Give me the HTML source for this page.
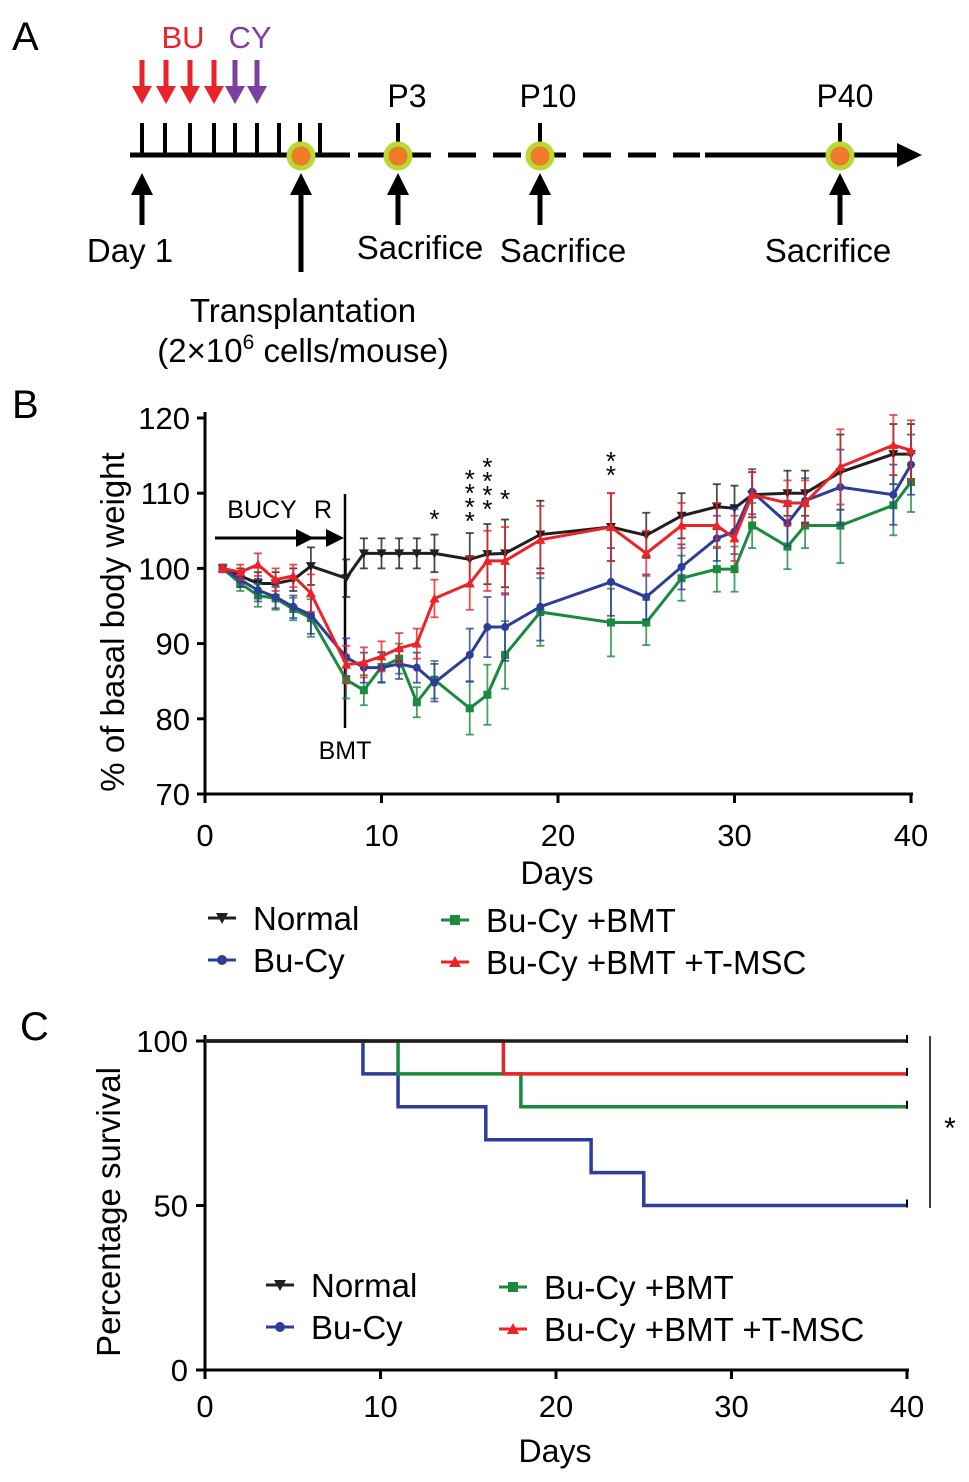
<!DOCTYPE html>
<html><head><meta charset="utf-8"><style>
html,body{margin:0;padding:0;background:#fff;}
svg{display:block;font-family:"Liberation Sans",Arial,sans-serif;}
</style></head><body>
<svg id="fig" width="969" height="1482" viewBox="0 0 969 1482" xmlns="http://www.w3.org/2000/svg">
<!-- Panel A -->
<g>
<text x="12" y="50" font-size="40">A</text>
<text x="183" y="48" font-size="31" fill="#e8232a" text-anchor="middle">BU</text>
<text x="250" y="48" font-size="31" fill="#7b3fa0" text-anchor="middle">CY</text>
<g id="drugArrows"></g>
<line x1="130" y1="155" x2="350" y2="155" stroke="#000" stroke-width="5"/>
<line x1="358" y1="155" x2="700" y2="155" stroke="#000" stroke-width="5" stroke-dasharray="28,17"/>
<line x1="705" y1="155" x2="900" y2="155" stroke="#000" stroke-width="5"/>
<polygon points="897,143 922,155 897,167" fill="#000"/>
<g id="dayTicks"></g>
<g id="sacCircles"></g>
<text x="407" y="107" font-size="32" text-anchor="middle">P3</text>
<text x="548" y="107" font-size="32" text-anchor="middle">P10</text>
<text x="845" y="107" font-size="32" text-anchor="middle">P40</text>
<g id="upArrows"></g>
<text x="130" y="262" font-size="33" text-anchor="middle">Day 1</text>
<text x="420" y="259" font-size="33" text-anchor="middle">Sacrifice</text>
<text x="563" y="262" font-size="33" text-anchor="middle">Sacrifice</text>
<text x="828" y="262" font-size="33" text-anchor="middle">Sacrifice</text>
<text x="303" y="322" font-size="33" text-anchor="middle">Transplantation</text>
<text x="303" y="362" font-size="33" text-anchor="middle">(2×10<tspan dy="-13" font-size="21">6</tspan><tspan dy="13"> cells/mouse)</tspan></text>
</g>
<!-- Panel B -->
<g id="panelB">
<text x="12" y="418" font-size="40">B</text>
</g>
<!-- Panel C -->
<g id="panelC">
<text x="20" y="1040" font-size="40">C</text>
</g>
</svg>
<script>
// ---------- Panel B data ----------
const daysB = [1,2,3,4,5,6,8,9,10,11,12,13,15,16,17,19,23,25,27,29,30,31,33,34,36,39,40];
const normalW = [100,99,98,98,98.5,100.3,98.7,102,102,102,102,102,101.2,101.9,102,104.5,105.5,104.4,107,108.2,108,109.8,110,110,112.8,115.2,115.2];
const bucyW   = [100,98.5,97.1,96.2,94.9,93.8,88.2,86.8,86.8,87.3,86.8,84.8,88.5,92.2,92.2,94.9,98.2,96.2,100.2,104,104.9,110.2,106,109,110.8,109.8,113.8];
const bmtW    = [100,98,96.4,96,94.6,93.4,85.2,83.8,86.9,88,82.2,85.2,81.4,83.2,88.5,94.2,92.8,92.8,98.7,99.9,99.9,105.7,102.9,105.7,105.7,108.4,111.5];
const msctW   = [100,99.5,100.5,98.5,99,96.7,87.2,87.5,88.3,89.4,90,96,98,101,101,103.8,105.5,102,105.7,105.7,104,109.8,108.7,108.7,113.5,116.4,115.7];
const errB    = [0.5,1,1.5,1.5,1.5,2.5,2.5,2,2,2,2,2.5,3.5,4,4.5,4.5,4.5,3,3,3,3,3,3,3,5,4,4];
const yTicksB = [70,80,90,100,110,120];
const xTicksB = [0,10,20,30,40];
// ---------- Panel C data ----------
const survNormal = [[0,100],[40,100]];
const survMsc    = [[0,100],[17,90],[40,90]];
const survBmt    = [[0,100],[11,90],[18,80],[40,80]];
const survBucy   = [[0,100],[9,90],[11,80],[16,70],[22,60],[25,50],[40,50]];
const yTicksC = [0,50,100];
const xTicksC = [0,10,20,30,40];

const NS="http://www.w3.org/2000/svg";
function mk(parent,tag,attrs,text){const e=document.createElementNS(NS,tag);for(const k in attrs)e.setAttribute(k,attrs[k]);if(text!==undefined)e.textContent=text;parent.appendChild(e);return e;}

// Panel A drawing
const arrG=document.getElementById('drugArrows');
[142,166,190,214,235,257].forEach((x,i)=>{
  const c=i<4?'#e8232a':'#7b3fa0';
  const g=mk(arrG,'g',{});
  
  
  mk(g,'line',{x1:x,y1:60,x2:x,y2:88,stroke:c,'stroke-width':5});
  mk(g,'polygon',{points:`${x-10},86 ${x+10},86 ${x},104`,fill:c});
});
const tG=document.getElementById('dayTicks');
[142,165,190,214,235,257,279,300,320].forEach(x=>{
  const l=mk(tG,'line',{x1:x,y1:123,x2:x,y2:155,stroke:'#000','stroke-width':4});
  
  
});
[398,540,840].forEach(x=>mk(tG,'line',{x1:x,y1:123,x2:x,y2:155,stroke:'#000','stroke-width':4}));
const cG=document.getElementById('sacCircles');
[301,398,540,840].forEach(x=>{
  const c=mk(cG,'circle',{cx:x,cy:156,r:12,fill:'#ee7a2a',stroke:'#b8d832','stroke-width':5});
  
  
});
const uG=document.getElementById('upArrows');
[[142,225],[301,272],[398,225],[540,225],[840,225]].forEach(([x,y2])=>{
  const g=mk(uG,'g',{});
  
  
  mk(g,'line',{x1:x,y1:190,x2:x,y2:y2,stroke:'#000','stroke-width':5});
  mk(g,'polygon',{points:`${x-11},195 ${x+11},195 ${x},173`,fill:'#000'});
});

// Panel B
const B=document.getElementById('panelB');
const bx=d=>205+d*(911-205)/40, by=v=>794-(v-70)*(794-418)/50;
mk(B,'line',{x1:205,y1:412,x2:205,y2:796,stroke:'#000','stroke-width':3});
mk(B,'line',{x1:203,y1:794,x2:913,y2:794,stroke:'#000','stroke-width':3});
yTicksB.forEach(v=>{
  mk(B,'line',{x1:197,y1:by(v),x2:205,y2:by(v),stroke:'#000','stroke-width':3});
  const t=mk(B,'text',{x:190,y:by(v)+11,'font-size':31,'text-anchor':'end'},v);
  
  
});
xTicksB.forEach(v=>{
  mk(B,'line',{x1:bx(v),y1:794,x2:bx(v),y2:803,stroke:'#000','stroke-width':3});
  const t=mk(B,'text',{x:bx(v),y:846,'font-size':31,'text-anchor':'middle'},v);
  
  
});
let t=mk(B,'text',{x:557,y:884,'font-size':32,'text-anchor':'middle'},'Days');


t=mk(B,'text',{x:0,y:0,'font-size':33,'text-anchor':'middle',transform:'translate(124,622) rotate(-90)'},'% of basal body weight');


// annotations
mk(B,'line',{x1:215,y1:538,x2:335,y2:538,stroke:'#000','stroke-width':3});
mk(B,'polygon',{points:'296,529 314,538 296,547',fill:'#000'});
mk(B,'polygon',{points:'326,529 344,538 326,547',fill:'#000'});
mk(B,'text',{x:262,y:518,'font-size':25,'text-anchor':'middle'},'BUCY');
mk(B,'text',{x:323,y:518,'font-size':25,'text-anchor':'middle'},'R');
mk(B,'line',{x1:345,y1:494,x2:345,y2:728,stroke:'#000','stroke-width':2.5});
mk(B,'text',{x:345,y:759,'font-size':25,'text-anchor':'middle'},'BMT');
function stars(day,n,ytop){for(let i=0;i<n;i++){mk(B,'text',{x:bx(day),y:ytop+i*14+18,'font-size':26,'text-anchor':'middle'},'*');}}
stars(13,1,510);stars(15,4,470);stars(16,4,458);stars(17,1,490);stars(23,2,452);
const seriesB=[[normalW,'#231f20','tri-down','normal'],[bmtW,'#1a8a3c','square','bu-cy-bmt'],[bucyW,'#2e3d9a','circle','bu-cy'],[msctW,'#ec2327','tri-up','bu-cy-bmt-tmsc']];
function marker(g,shape,x,y,c,s){
  if(shape==='circle')return mk(g,'circle',{cx:x,cy:y,r:s,fill:c});
  if(shape==='square')return mk(g,'rect',{x:x-s,y:y-s,width:2*s,height:2*s,fill:c});
  if(shape==='tri-up')return mk(g,'polygon',{points:`${x-s-1},${y+s} ${x+s+1},${y+s} ${x},${y-s-1}`,fill:c});
  return mk(g,'polygon',{points:`${x-s-1},${y-s} ${x+s+1},${y-s} ${x},${y+s+1}`,fill:c});
}
seriesB.forEach(([vals,c,shape,name])=>{
  const g=mk(B,'g',{});
  
  
  vals.forEach((v,i)=>{
    const x=bx(daysB[i]),e=errB[i];
    mk(g,'line',{x1:x,y1:by(v+e),x2:x,y2:by(v-e),stroke:c,'stroke-width':1.8,opacity:0.8});
    mk(g,'line',{x1:x-4,y1:by(v+e),x2:x+4,y2:by(v+e),stroke:c,'stroke-width':1.8,opacity:0.8});
    mk(g,'line',{x1:x-4,y1:by(v-e),x2:x+4,y2:by(v-e),stroke:c,'stroke-width':1.8,opacity:0.8});
  });
  mk(g,'polyline',{points:vals.map((v,i)=>bx(daysB[i])+','+by(v)).join(' '),fill:'none',stroke:c,'stroke-width':3});
  vals.forEach((v,i)=>{
    const m=marker(g,shape,bx(daysB[i]),by(v),c,4);
    
    
  });
});
function legend(parent,items){
  items.forEach(([lx,ly,label,c,shape,name])=>{
    const g=mk(parent,'g',{});
    
    
    mk(g,'line',{x1:lx-14,y1:ly,x2:lx+14,y2:ly,stroke:c,'stroke-width':3});
    marker(g,shape,lx,ly,c,5);
    mk(g,'text',{x:lx+31,y:ly+12,'font-size':33},label);
  });
}
legend(B,[[222,918,'Normal','#231f20','tri-down','normal'],[222,960,'Bu-Cy','#2e3d9a','circle','bu-cy'],
  [455,920,'Bu-Cy +BMT','#1a8a3c','square','bu-cy-bmt'],[455,962,'Bu-Cy +BMT +T-MSC','#ec2327','tri-up','bu-cy-bmt-tmsc']]);

// Panel C
const C=document.getElementById('panelC');
const cx=d=>205+d*(907-205)/40, cy=v=>1370-v*(1370-1041)/100;
mk(C,'line',{x1:205,y1:1035,x2:205,y2:1372,stroke:'#000','stroke-width':3});
mk(C,'line',{x1:203,y1:1370,x2:909,y2:1370,stroke:'#000','stroke-width':3});
yTicksC.forEach(v=>{
  mk(C,'line',{x1:196,y1:cy(v),x2:205,y2:cy(v),stroke:'#000','stroke-width':3});
  const t=mk(C,'text',{x:188,y:cy(v)+11,'font-size':31,'text-anchor':'end'},v);
  
  
});
xTicksC.forEach(v=>{
  mk(C,'line',{x1:cx(v),y1:1370,x2:cx(v),y2:1379,stroke:'#000','stroke-width':3});
  const t=mk(C,'text',{x:cx(v),y:1417,'font-size':31,'text-anchor':'middle'},v);
  
  
});
t=mk(C,'text',{x:555,y:1462,'font-size':32,'text-anchor':'middle'},'Days');


t=mk(C,'text',{x:0,y:0,'font-size':33,'text-anchor':'middle',transform:'translate(120,1212) rotate(-90)'},'Percentage survival');


[[survBucy,'#2e3d9a','bu-cy'],[survBmt,'#1a8a3c','bu-cy-bmt'],[survMsc,'#ec2327','bu-cy-bmt-tmsc'],[survNormal,'#231f20','normal']].forEach(([pts,c,name])=>{
  let d='M'+cx(pts[0][0])+','+cy(pts[0][1]);
  for(let i=1;i<pts.length;i++){d+=' H'+cx(pts[i][0])+' V'+cy(pts[i][1]);}
  const p=mk(C,'path',{d:d,fill:'none',stroke:c,'stroke-width':3.5});
  
  
  const last=pts[pts.length-1];
  mk(C,'line',{x1:cx(last[0]),y1:cy(last[1])-6,x2:cx(last[0]),y2:cy(last[1])+2,stroke:'#000','stroke-width':2});
});
mk(C,'line',{x1:930,y1:1036,x2:930,y2:1208,stroke:'#000','stroke-width':1.5});
mk(C,'text',{x:950,y:1138,'font-size':30,'text-anchor':'middle'},'*');
legend(C,[[280,1285,'Normal','#231f20','tri-down','normal'],[280,1327,'Bu-Cy','#2e3d9a','circle','bu-cy'],
  [513,1287,'Bu-Cy +BMT','#1a8a3c','square','bu-cy-bmt'],[513,1329,'Bu-Cy +BMT +T-MSC','#ec2327','tri-up','bu-cy-bmt-tmsc']]);
</script>
</body></html>
